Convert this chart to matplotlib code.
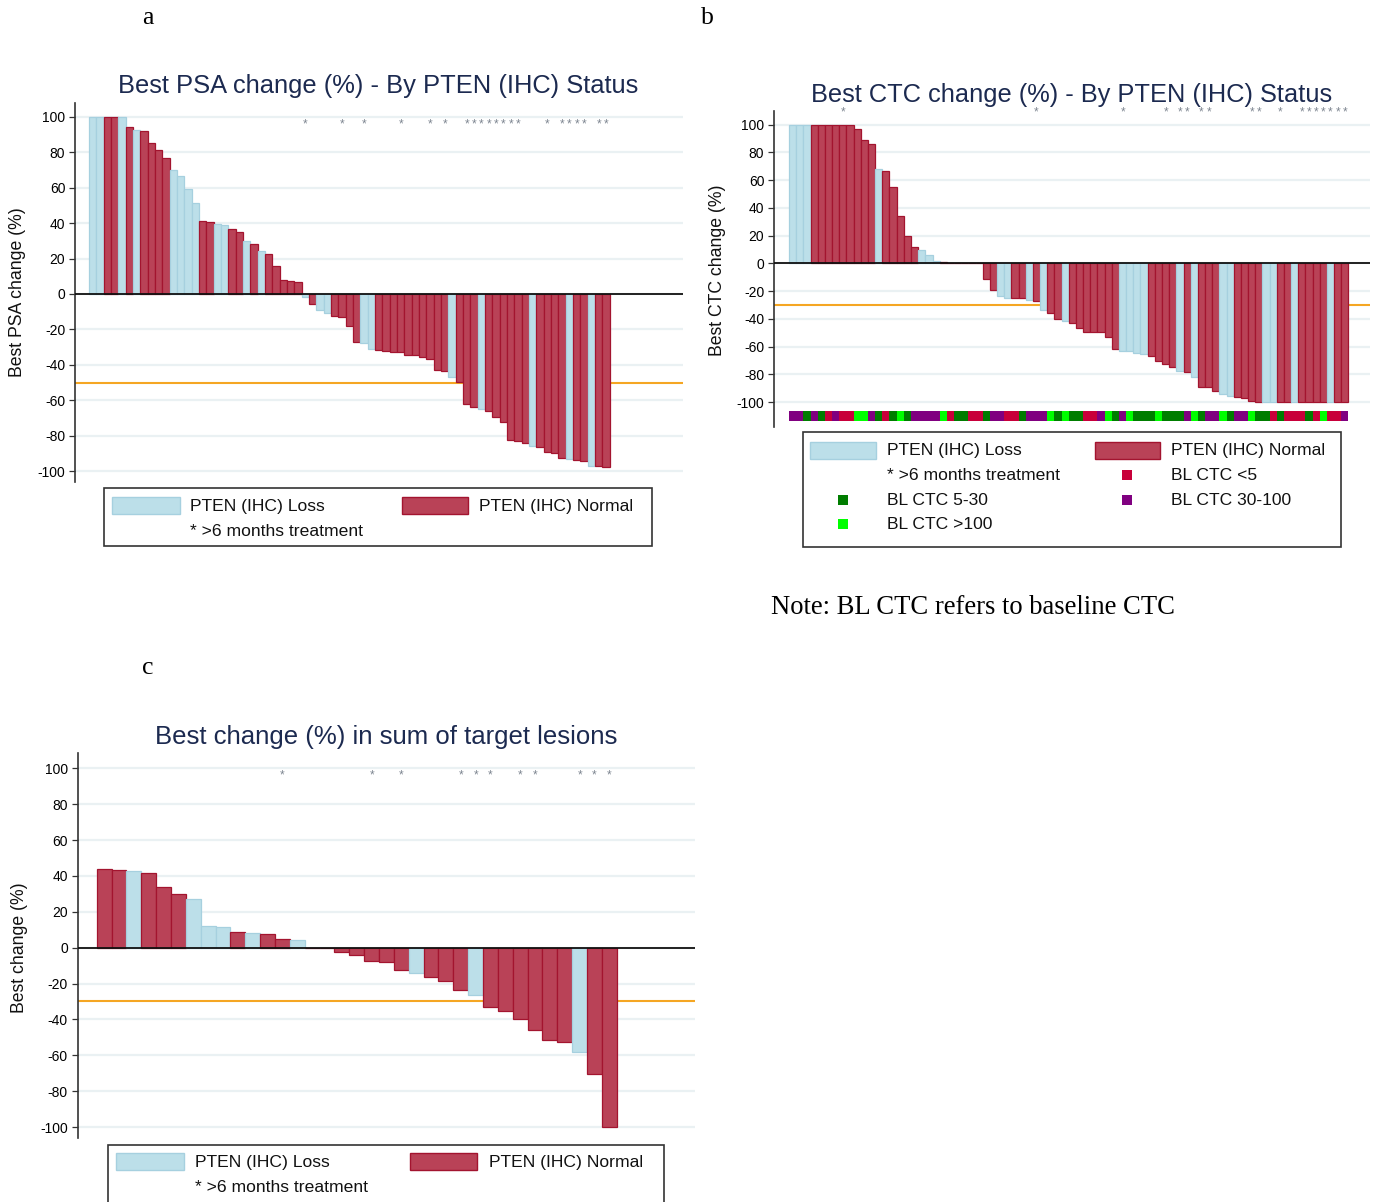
import numpy as np
import matplotlib.pyplot as plt
from matplotlib.patches import Rectangle

plt.rcParams['font.family'] = ['Liberation Sans', 'DejaVu Sans']

W, H = 1384, 1202

# ---- panel a: best PSA change (%) ----
psa_values = [100, 100, 100, 100, 100, 94, 92.5, 91.9, 85.1, 81.5,
              77, 70, 66.5, 59, 51.6, 41, 40.7, 39.4, 38.8, 36.9,
              35, 29.8, 28, 24.1, 22.6, 16, 8.1, 7.5, 6.8, -1.9,
              -5.8, -8.9, -10.7, -12.4, -13, -17.9, -27.1, -27.5, -30.9, -31.8,
              -32.4, -32.6, -32.8, -34.3, -34.5, -35.4, -36.7, -42.9, -43.3, -47.1,
              -49.7, -62, -63.7, -65, -66.3, -69.5, -72.3, -82.7, -83.2, -84.4,
              -85.7, -86.4, -89.5, -89.8, -92.7, -93.4, -93.8, -94.4, -97.2, -97.4,
              -97.7]
# L = PTEN loss, N = PTEN normal
psa_groups = list("LLNNLNLNNNNLLLLNNLLNNLNLNNNNNLNLLNNNNLL"
                  "NNNNNNNNNNLNNNLNNNNNNLNNNNLNNLNN")
psa_stars = [30, 35, 38, 43, 47, 49, 52, 53, 54, 55, 56, 57, 58, 59,
             63, 65, 66, 67, 68, 70, 71]

# ---- panel b: best CTC change (%) ----
ctc_values = [100, 100, 100, 100, 100, 100, 100, 100, 100, 96.9,
              88.9, 86.3, 67.8, 66.6, 54.8, 33.9, 20, 12, 9.4, 5.8,
              1.4, 1, 0, 0, 0, 0, 0, -11, -19, -23.6,
              -24.8, -24.8, -24.8, -26.2, -26.9, -33.4, -35.6, -39.9, -41.6, -42.8,
              -46.9, -49.8, -49.8, -49.8, -53.4, -61.5, -63, -63.2, -64.9, -65.4,
              -66.8, -70.2, -72.6, -74.8, -77.9, -78.4, -81.7, -88.9, -89.4, -92.3,
              -94.5, -95.7, -96.6, -97.1, -99, -100, -100, -100, -100, -100,
              -100, -100, -100, -100, -100, -100, -100, -100]
ctc_groups = list("LLLNNNNNNNNNLNNNNNLLLNNNNNNNNLLNNLNLNNLNNNNNNNLLLLNNNNLNLNNNLLNNNNLLNNLNNNNLNN")
ctc_stars = [8, 35, 47, 53, 55, 56, 58, 59, 65, 66, 69, 72, 73, 74, 75, 76, 77, 78]
# baseline CTC: R <5, D 5-30, P 30-100, G >100
ctc_baseline = list("PPDPDRPRRGGPDRDGDPPPPGRDDRRDPPRRDPPPGDGD"
                    "DRRPGDPGDDDGDDDPGDPPGDPPGDDRDRRRDRGRRP")

# ---- panel c: best change (%) in sum of target lesions ----
tum_values = [43.9, 43.3, 42.7, 41.6, 33.6, 30.1, 27.1, 11.9, 11.3, 8.6,
              8, 7.4, 4.8, 4.1, 0, 0, -2.2, -4.3, -7.4, -7.8,
              -12.5, -13.9, -16.5, -18.6, -23.6, -26.4, -33.3, -35.3, -39.8, -46.1,
              -51.3, -52.4, -58, -70.4, -99.8]
tum_groups = list("NNLNNNLLLNLNNLNNNNNNNLNNNLNNNNNNLNN")
tum_stars = [13, 19, 21, 25, 26, 27, 29, 30, 33, 34, 35]

LOSS_FILL, LOSS_EDGE = '#bcdfe9', '#a6d0df'
NORM_FILL, NORM_EDGE = '#b94257', '#a3142f'
BL_COLORS = {'R': '#c8003a', 'D': '#007d00', 'P': '#800080', 'G': '#00ff00'}
TITLE_COLOR = '#1c2a50'
GRID_COLOR = '#eaf1f3'
YTICKS = np.arange(-100, 101, 20)


def fx(x):
    return x / W


def fy(y):
    return 1 - y / H


def waterfall(ax, values, groups, stars, star_y, ref, ylim, xlim):
    x = np.arange(1, len(values) + 1)
    fills = [LOSS_FILL if g == 'L' else NORM_FILL for g in groups]
    edges = [LOSS_EDGE if g == 'L' else NORM_EDGE for g in groups]
    ax.bar(x, values, width=1.0, color=fills, edgecolor=edges, linewidth=0.9, zorder=3)
    ax.axhline(ref, color='#f5a623', lw=1.5, zorder=2)
    ax.axhline(0, color='#111111', lw=1.3, zorder=4)
    for s in stars:
        ax.text(s, star_y, '*', ha='center', va='center', fontsize=8.5,
                color='#7d8590', zorder=5)
    ax.set_xlim(*xlim)
    ax.set_ylim(*ylim)
    ax.set_yticks(YTICKS)
    ax.set_yticklabels([str(v) for v in YTICKS], fontsize=10)
    ax.set_xticks([])
    ax.yaxis.grid(True, color=GRID_COLOR, lw=1.6)
    ax.set_axisbelow(True)
    for side in ['top', 'right', 'bottom']:
        ax.spines[side].set_visible(False)
    ax.spines['left'].set_color('#333333')
    ax.spines['left'].set_linewidth(1.2)
    ax.tick_params(axis='y', length=4, width=0.9, color='#333333', pad=3)


def legend_box(x0, y0, x1, y1):
    fig.add_artist(Rectangle((fx(x0), fy(y1)), fx(x1 - x0), (y1 - y0) / H,
                             transform=fig.transFigure, fill=False,
                             edgecolor='#333333', lw=1.2))


def legend_patch(x0, y0, x1, y1, fill, edge):
    fig.add_artist(Rectangle((fx(x0), fy(y1)), fx(x1 - x0), (y1 - y0) / H,
                             transform=fig.transFigure, facecolor=fill,
                             edgecolor=edge, lw=1.0))


def legend_text(x, y, s):
    fig.text(fx(x), fy(y), s, ha='left', va='center', fontsize=12.6, color='#111111')


fig = plt.figure(figsize=(W / 100, H / 100), dpi=100)

# panel a
ax_a = fig.add_axes([fx(75), fy(481.7), fx(683 - 75), (481.7 - 102.7) / H])
waterfall(ax_a, psa_values, psa_groups, psa_stars, 96, -50, (-106, 108), (-1.4, 81.5))
fig.text(fx(378), fy(86), 'Best PSA change (%) - By PTEN (IHC) Status',
         ha='center', va='center', fontsize=18.4, color=TITLE_COLOR)
fig.text(fx(18), fy(292), 'Best PSA change (%)', rotation=90,
         ha='center', va='center', fontsize=12.7, color='#111111')
legend_box(104, 488, 652, 546)
legend_patch(112, 497, 180, 514, LOSS_FILL, LOSS_EDGE)
legend_text(190, 506, 'PTEN (IHC) Loss')
legend_patch(402, 497, 468, 514, NORM_FILL, NORM_EDGE)
legend_text(479, 506, 'PTEN (IHC) Normal')
legend_text(190, 531, '* >6 months treatment')

# panel b
ax_b = fig.add_axes([fx(774), fy(426.7), fx(1370 - 774), (426.7 - 110.7) / H])
waterfall(ax_b, ctc_values, ctc_groups, ctc_stars, 109, -30, (-117.8, 110), (-1.6, 81.5))
xb = np.arange(1, len(ctc_values) + 1)
ax_b.bar(xb, [7.4] * len(xb), bottom=-113.7, width=1.0,
         color=[BL_COLORS[c] for c in ctc_baseline], linewidth=0, zorder=3)
fig.text(fx(1072), fy(95), 'Best CTC change (%) - By PTEN (IHC) Status',
         ha='center', va='center', fontsize=18.3, color=TITLE_COLOR)
fig.text(fx(718), fy(270), 'Best CTC change (%)', rotation=90,
         ha='center', va='center', fontsize=12.7, color='#111111')
legend_box(803, 432, 1341, 547)
legend_patch(810, 442, 876, 459, LOSS_FILL, LOSS_EDGE)
legend_text(887, 451, 'PTEN (IHC) Loss')
legend_patch(1095, 442, 1160, 459, NORM_FILL, NORM_EDGE)
legend_text(1171, 451, 'PTEN (IHC) Normal')
legend_text(887, 475, '* >6 months treatment')
bl_items = [(1127, 475, 'R', 'BL CTC <5'), (843, 500, 'D', 'BL CTC 5-30'),
            (1127, 500, 'P', 'BL CTC 30-100'), (843, 524, 'G', 'BL CTC >100')]
for mx, my, key, label in bl_items:
    fig.add_artist(Rectangle((fx(mx - 5), fy(my + 5)), fx(10), 10 / H,
                             transform=fig.transFigure, facecolor=BL_COLORS[key],
                             edgecolor='none'))
    legend_text(mx + 44, my, label)

# panel c
ax_c = fig.add_axes([fx(77.6), fy(1138.3), fx(695 - 77.6), (1138.3 - 753.3) / H])
waterfall(ax_c, tum_values, tum_groups, tum_stars, 96, -30, (-106.3, 108.4), (-0.79, 40.77))
fig.text(fx(386), fy(737), 'Best change (%) in sum of target lesions',
         ha='center', va='center', fontsize=18.5, color=TITLE_COLOR)
fig.text(fx(20), fy(948), 'Best change (%)', rotation=90,
         ha='center', va='center', fontsize=12.7, color='#111111')
legend_box(108, 1145, 664, 1230)
legend_patch(116, 1153, 184, 1170, LOSS_FILL, LOSS_EDGE)
legend_text(195, 1162, 'PTEN (IHC) Loss')
legend_patch(410, 1153, 477, 1170, NORM_FILL, NORM_EDGE)
legend_text(489, 1162, 'PTEN (IHC) Normal')
legend_text(195, 1188, '* >6 months treatment')

# panel letters and note
serif = ['Liberation Serif', 'DejaVu Serif']
fig.text(fx(148), fy(18), 'a', ha='center', va='center', fontsize=18.5, family=serif)
fig.text(fx(707), fy(18), 'b', ha='center', va='center', fontsize=18.5, family=serif)
fig.text(fx(148), fy(668), 'c', ha='center', va='center', fontsize=18.5, family=serif)
fig.text(fx(771), fy(607), 'Note: BL CTC refers to baseline CTC', ha='left', va='center',
         fontsize=19.2, family=serif)

fig.savefig('out.png', dpi=100)
